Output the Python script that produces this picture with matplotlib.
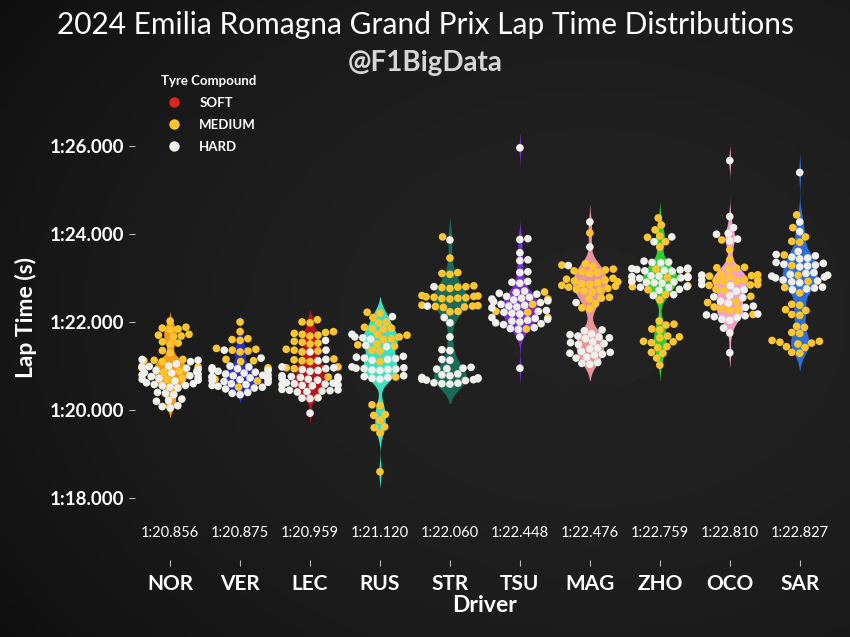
import matplotlib.pyplot as plt
from matplotlib.lines import Line2D
import numpy as np
import pandas as pd
import seaborn as sns

# drivers in finishing order, with team colours
DRIVERS = ["NOR", "VER", "LEC", "RUS", "STR", "TSU", "MAG", "ZHO", "OCO", "SAR"]
TEAM_COLORS = ["#f59b1a", "#2b2fc8", "#b8141a", "#3ee0c2", "#1b6b58",
               "#7a2fd6", "#e8959a", "#2fcf2f", "#f2a0c8", "#2f6fd8"]
COMPOUNDS = ["SOFT", "MEDIUM", "HARD"]
COMPOUND_COLORS = ["#da291c", "#ffc52e", "#f0f0ec"]
MEDIANS = [80.856, 80.875, 80.959, 81.120, 82.060, 82.448, 82.476, 82.759, 82.810, 82.827]

# lap times in seconds
NOR_MEDIUM = [82.02, 81.88, 81.86, 81.84, 81.83, 81.72, 81.70, 81.68, 81.66, 81.55, 81.52, 81.50,
              81.35, 81.30, 81.15, 81.13, 81.12, 81.10, 81.00, 80.98, 80.95, 80.88, 80.86, 80.72, 80.70]
NOR_HARD = [81.15, 81.13, 81.10, 81.05, 81.00, 80.99, 80.97, 80.95, 80.92, 80.90, 80.87, 80.85, 80.84,
            80.82, 80.80, 80.78, 80.76, 80.74, 80.72, 80.70, 80.68, 80.66, 80.62, 80.60, 80.58, 80.56,
            80.55, 80.52, 80.50, 80.40, 80.38, 80.35, 80.25, 80.22, 80.20, 80.10, 80.08, 80.05]
VER_MEDIUM = [82.00, 81.78, 81.62, 81.60, 81.58, 81.40, 81.38, 81.36, 81.34, 81.32, 81.15, 81.12,
              81.10, 80.96, 80.92, 80.70, 80.66, 80.52]
VER_HARD = [81.36, 81.18, 81.00, 80.98, 80.96, 80.94, 80.92, 80.90, 80.88, 80.86, 80.84, 80.82, 80.80,
            80.79, 80.78, 80.76, 80.75, 80.73, 80.72, 80.70, 80.69, 80.67, 80.65, 80.63, 80.60, 80.58,
            80.56, 80.54, 80.52, 80.50, 80.48, 80.40, 80.38, 80.35]
LEC_MEDIUM = [82.05, 82.00, 81.98, 81.78, 81.76, 81.74, 81.72, 81.70, 81.68, 81.56, 81.54, 81.52,
              81.50, 81.38, 81.36, 81.34, 81.32, 81.16, 81.14, 81.12, 81.10, 80.98, 80.96, 80.94, 80.75]
LEC_HARD = [81.58, 81.36, 81.32, 81.15, 81.12, 80.98, 80.96, 80.94, 80.92, 80.90, 80.88, 80.78, 80.76,
            80.75, 80.74, 80.72, 80.71, 80.70, 80.68, 80.62, 80.61, 80.60, 80.59, 80.58, 80.57, 80.56,
            80.55, 80.47, 80.46, 80.45, 80.44, 80.43, 80.42, 80.41, 80.28, 80.27, 80.26, 79.93]
RUS_MEDIUM = [82.22, 82.20, 82.10, 82.00, 81.98, 81.88, 81.86, 81.85, 81.84, 81.72, 81.70, 81.66,
              81.62, 81.60, 81.50, 81.48, 81.45, 81.36, 81.34, 81.10, 80.75, 80.12, 80.10, 79.90,
              79.88, 79.77, 79.62, 79.60, 79.48, 78.60]
RUS_HARD = [82.12, 81.72, 81.66, 81.64, 81.61, 81.47, 81.44, 81.22, 81.20, 81.18, 81.17, 81.15, 81.13,
            80.98, 80.96, 80.95, 80.94, 80.93, 80.92, 80.91, 80.90, 80.78, 80.76, 80.74, 80.72, 80.70]
STR_MEDIUM = [83.93, 83.45, 83.12, 83.10, 83.08, 82.82, 82.80, 82.79, 82.78, 82.76, 82.60, 82.59,
              82.58, 82.57, 82.56, 82.55, 82.54, 82.53, 82.52, 82.38, 82.37, 82.36, 82.35, 82.34,
              82.33, 82.24, 82.23]
STR_HARD = [83.86, 82.80, 82.36, 82.10, 81.98, 81.66, 81.37, 81.35, 81.15, 81.13, 80.97, 80.95, 80.94,
            80.93, 80.82, 80.80, 80.78, 80.74, 80.73, 80.72, 80.71, 80.70, 80.69, 80.68, 80.67, 80.62,
            80.61, 80.60, 80.59]
TSU_MEDIUM = [82.68, 82.52, 82.40, 82.24, 82.22, 82.10, 81.84]
TSU_HARD = [85.95, 83.89, 83.87, 83.57, 83.41, 83.39, 83.14, 83.12, 82.92, 82.90, 82.88, 82.70, 82.67,
            82.65, 82.63, 82.58, 82.56, 82.54, 82.52, 82.50, 82.48, 82.46, 82.44, 82.40, 82.38, 82.36,
            82.34, 82.32, 82.26, 82.24, 82.22, 82.20, 82.18, 82.10, 82.08, 82.06, 82.04, 82.02, 82.00,
            81.98, 81.96, 81.94, 81.87, 81.85, 81.83, 81.66, 80.95]
MAG_MEDIUM = [84.02, 83.32, 83.29, 83.26, 83.20, 83.18, 83.16, 83.14, 83.12, 83.10, 82.99, 82.97,
              82.95, 82.93, 82.91, 82.89, 82.87, 82.85, 82.83, 82.81, 82.79, 82.76, 82.74, 82.72,
              82.70, 82.68, 82.56, 82.54, 82.52, 82.42, 82.32, 82.30]
MAG_HARD = [84.27, 83.70, 83.28, 82.44, 81.82, 81.80, 81.73, 81.71, 81.68, 81.66, 81.64, 81.62, 81.55,
            81.53, 81.51, 81.49, 81.41, 81.39, 81.33, 81.31, 81.29, 81.27, 81.25, 81.20, 81.18, 81.08,
            81.06, 81.04]
ZHO_MEDIUM = [84.36, 84.20, 84.09, 83.95, 83.92, 83.82, 83.70, 83.20, 83.03, 83.01, 82.92, 82.82,
              82.80, 82.73, 82.62, 82.50, 82.02, 81.95, 81.93, 81.84, 81.82, 81.68, 81.66, 81.64,
              81.56, 81.55, 81.53, 81.44, 81.42, 81.31, 81.29, 81.18, 81.02]
ZHO_HARD = [83.93, 83.82, 83.38, 83.36, 83.35, 83.34, 83.22, 83.21, 83.20, 83.19, 83.18, 83.17, 83.16,
            83.15, 83.05, 83.04, 83.03, 83.02, 83.01, 83.00, 82.99, 82.92, 82.91, 82.90, 82.89, 82.88,
            82.80, 82.79, 82.78, 82.74, 82.72, 82.62, 82.60]
OCO_MEDIUM = [83.86, 83.64, 83.41, 83.24, 83.23, 83.22, 83.20, 83.08, 83.07, 83.06, 83.05, 83.04,
              83.03, 82.96, 82.95, 82.94, 82.93, 82.92, 82.85, 82.84, 82.83, 82.74, 82.72, 82.58,
              82.46, 82.44, 82.34, 82.30, 82.28, 82.26, 82.17]
OCO_HARD = [85.66, 84.39, 84.14, 84.01, 83.99, 83.88, 83.84, 83.06, 82.95, 82.85, 82.82, 82.73, 82.70,
            82.60, 82.57, 82.55, 82.47, 82.43, 82.36, 82.33, 82.18, 82.16, 82.14, 82.12, 82.10, 82.06,
            82.04, 81.86, 81.75, 81.30]
SAR_MEDIUM = [84.43, 84.14, 83.93, 83.83, 83.81, 83.52, 83.28, 83.06, 82.92, 82.78, 82.66, 82.40,
              82.38, 82.28, 82.26, 82.17, 82.15, 81.90, 81.88, 81.76, 81.74, 81.58, 81.56, 81.54,
              81.52, 81.50, 81.44, 81.42, 81.31, 81.29]
SAR_HARD = [85.39, 84.27, 84.05, 83.60, 83.53, 83.50, 83.47, 83.45, 83.43, 83.35, 83.33, 83.31, 83.29,
            83.27, 83.25, 83.12, 83.10, 83.08, 83.06, 83.04, 83.02, 83.00, 82.95, 82.93, 82.91, 82.89,
            82.79, 82.77, 82.75, 82.73]

laps = {
    "NOR": {"MEDIUM": NOR_MEDIUM, "HARD": NOR_HARD},
    "VER": {"MEDIUM": VER_MEDIUM, "HARD": VER_HARD},
    "LEC": {"MEDIUM": LEC_MEDIUM, "HARD": LEC_HARD},
    "RUS": {"MEDIUM": RUS_MEDIUM, "HARD": RUS_HARD},
    "STR": {"MEDIUM": STR_MEDIUM, "HARD": STR_HARD},
    "TSU": {"MEDIUM": TSU_MEDIUM, "HARD": TSU_HARD},
    "MAG": {"MEDIUM": MAG_MEDIUM, "HARD": MAG_HARD},
    "ZHO": {"MEDIUM": ZHO_MEDIUM, "HARD": ZHO_HARD},
    "OCO": {"MEDIUM": OCO_MEDIUM, "HARD": OCO_HARD},
    "SAR": {"MEDIUM": SAR_MEDIUM, "HARD": SAR_HARD},
}
rows = []
for drv in DRIVERS:
    for comp, times in laps[drv].items():
        for t in times:
            rows.append((drv, comp, t))
df = pd.DataFrame(rows, columns=["Driver", "Compound", "LapTime"])


def laptime(x, pos=None):
    m = int(x // 60)
    return f"{m}:{x - 60 * m:06.3f}"


FONT = "Lato"
plt.rcParams["font.family"] = [FONT, "DejaVu Sans"]

fig = plt.figure(figsize=(8.5, 6.37), dpi=100)
fig.patch.set_facecolor("#1b1b1b")

# soft dark backdrop
bg = fig.add_axes([0, 0, 1, 1], zorder=-10)
gx, gy = np.meshgrid(np.linspace(-1, 1, 200), np.linspace(-1, 1, 150))
shade = 0.13 - 0.05 * (gx ** 2 + gy ** 2) / 2 + 0.02 * gx
bg.imshow(shade, cmap="gray", vmin=0, vmax=1, aspect="auto", extent=[0, 1, 0, 1])
bg.axis("off")

ax = fig.add_axes([0.159, 0.121, 0.823, 0.761])
ax.set_facecolor("none")
ax.set_ylim(76.6, 87.6)

sns.violinplot(data=df, x="Driver", y="LapTime", hue="Driver", order=DRIVERS, hue_order=DRIVERS,
               palette=dict(zip(DRIVERS, TEAM_COLORS)), inner=None, density_norm="area",
               width=0.5, bw_adjust=0.5, cut=2,
               linewidth=0, saturation=1, legend=False, ax=ax)
sns.swarmplot(data=df, x="Driver", y="LapTime", hue="Compound", order=DRIVERS,
              hue_order=COMPOUNDS, palette=dict(zip(COMPOUNDS, COMPOUND_COLORS)),
              size=5.5, linewidth=0, legend=False, ax=ax)
ax.set_xlim(-0.5, 9.5)
ax.set_ylim(76.6, 87.6)

ax.set_yticks([78, 80, 82, 84, 86])
ax.yaxis.set_major_formatter(laptime)
for s in ax.spines.values():
    s.set_visible(False)
ax.tick_params(axis="both", colors="#bbbbbb", length=4, width=0.8)
ax.tick_params(axis="y", labelsize=13.5, labelcolor="white", pad=4)
ax.tick_params(axis="x", labelsize=15, labelcolor="white", pad=6)
for lab in ax.get_xticklabels() + ax.get_yticklabels():
    lab.set_fontweight("bold")

ax.set_xlabel("Driver", fontsize=16.5, fontweight="bold", color="white", labelpad=1)
ax.set_ylabel("Lap Time (s)", fontsize=16.5, fontweight="bold", color="white", labelpad=9)

for i, m in enumerate(MEDIANS):
    ax.text(i, 77.2, laptime(m), ha="center", va="center", fontsize=10.5, color="white")

handles = [Line2D([], [], marker="o", linestyle="none", markersize=7.5, color=c,
                  markeredgewidth=0) for c in COMPOUND_COLORS]
leg = ax.legend(handles, COMPOUNDS, title="Tyre Compound", loc="upper left",
                bbox_to_anchor=(0.02, 1.025), frameon=False, handletextpad=0.9,
                labelspacing=0.75, prop={"size": 9.5, "weight": "bold"})
leg.get_title().set_fontweight("bold")
leg.get_title().set_fontsize(9.5)
leg.get_title().set_color("white")
for t in leg.get_texts():
    t.set_color("white")

fig.text(0.5, 0.961, "2024 Emilia Romagna Grand Prix Lap Time Distributions",
         ha="center", va="center", fontsize=21.5, color="white")
fig.text(0.5, 0.901, "@F1BigData", ha="center", va="center", fontsize=20,
         fontweight="bold", color="#d6d6d6")

fig.savefig("out.png", dpi=100, facecolor=fig.get_facecolor())
